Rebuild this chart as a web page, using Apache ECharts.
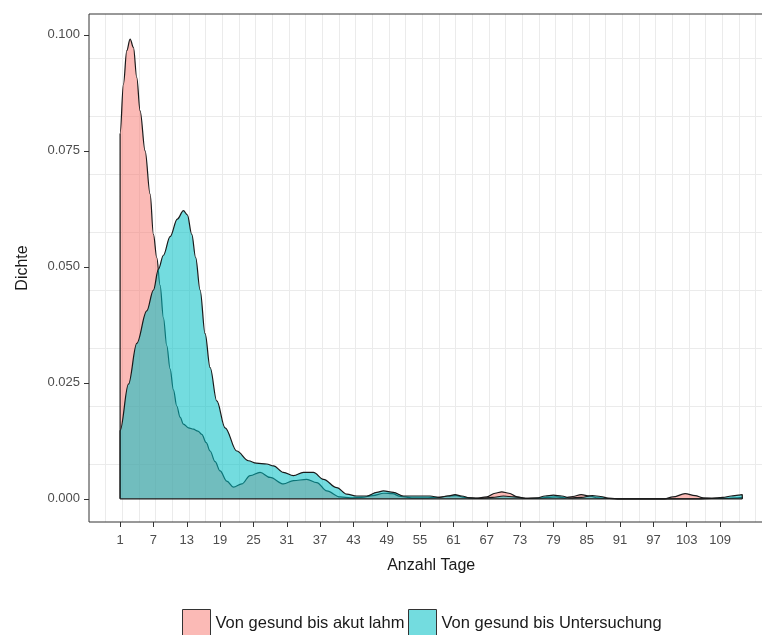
<!DOCTYPE html>
<html>
<head>
<meta charset="utf-8">
<script src="https://cdn.jsdelivr.net/npm/echarts@6/dist/echarts.min.js"></script>
<style>
html,body{margin:0;padding:0;background:#fff;}
#chart{width:762px;height:635px;}
</style>
</head>
<body>
<div id="chart"></div>
<script>
// ---- data ----
const seriesNames = ["Von gesund bis akut lahm", "Von gesund bis Untersuchung"];

const lahmDays = [1,1.6,2.2,2.8,3.4,4.0,4.6,5.5,6.4,7.0,7.6,8.2,8.8,9.4,10.0,10.6,11.2,11.8,12.4,13.3,14.2,15.0,15.7,16.5,17.2,18.1,19.0,20.2,21.4,22.9,24.4,26.2,28.0,30.4,32.2,34.6,36.4,38.2,40.6,42.5,44.5,46.5,48.5,50,51.5,53.5,56,58,60,61.5,63,65,67,68.5,69.7,71,72.5,74,76,78,79.5,81,82.5,84,85.5,87,89,91,99,100.5,102.7,104.5,106,108,110,112,113];
const lahmDens = [0.0787,0.0894,0.0966,0.0991,0.0973,0.0908,0.0836,0.0750,0.0657,0.0570,0.0520,0.0460,0.0390,0.0330,0.0280,0.0235,0.0200,0.0176,0.0161,0.0153,0.0150,0.0146,0.0139,0.0121,0.0103,0.0080,0.0060,0.0038,0.0025,0.0032,0.0050,0.0057,0.0046,0.0032,0.0039,0.0042,0.0035,0.0017,0.0004,0.0002,0.0003,0.0007,0.0012,0.0011,0.0005,0.0002,0.0002,0.0003,0.0006,0.0007,0.0003,0.0001,0.0004,0.0012,0.0015,0.0012,0.0004,0.0001,0.0001,0.0003,0.0004,0.0002,0.0005,0.0009,0.0006,0.0002,0.0001,0,0,0.0004,0.0011,0.0007,0.0002,0.0001,0.0001,0.0002,0.0003];

const untDays = [1,2.5,4.0,5.8,7.0,7.9,8.8,10.0,11.3,12.4,13.1,13.9,14.6,15.4,16.3,17.2,18.4,19.9,22.0,24.1,25.5,27.4,28.6,30.4,32.2,34.0,35.8,37.6,40.0,41.8,43.6,45.4,47.2,48.4,50.2,52.0,54.0,56.8,58.5,60,61.3,62.5,64,66,68,70,72,74,76,77.5,79,80.5,82,84,86,87.5,89,91,100,105,107.5,109.5,111,112.3,113];
const untDens = [0.0147,0.0247,0.0335,0.0405,0.0450,0.0495,0.0525,0.0565,0.0603,0.0621,0.0612,0.0570,0.0520,0.0450,0.0356,0.0283,0.0211,0.0153,0.0103,0.0082,0.0077,0.0075,0.0071,0.0057,0.0050,0.0057,0.0057,0.0042,0.0024,0.0010,0.0006,0.0006,0.0014,0.0017,0.0014,0.0006,0.0006,0.0006,0.0003,0.0006,0.0009,0.0006,0.0002,0.0001,0.0003,0.0006,0.0004,0.0001,0.0002,0.0006,0.0008,0.0006,0.0002,0.0003,0.0007,0.0005,0.0001,0,0,0,0.0001,0.0003,0.0006,0.0008,0.0009];

const xTickDays = [1,7,13,19,25,31,37,43,49,55,61,67,73,79,85,91,97,103,109];
const yTickVals = [0,0.025,0.05,0.075,0.1];

// ---- build ----
const FONT = "Liberation Sans, Arial, sans-serif";
const xMin = -4.6, xMax = 118.6;
const yMin = -0.0050, yMax = 0.1045;
const pinkFill = "rgba(248,118,109,0.5)";
const tealFill = "rgba(0,191,196,0.55)";

function polygon(days, vals){
  const pts = [[days[0], 0]];
  for (let i = 0; i < days.length; i++) pts.push([days[i], vals[i]]);
  pts.push([days[days.length-1], 0]);
  return pts;
}
const firstDay = Math.min(lahmDays[0], untDays[0]);
const lastDay = Math.max(lahmDays[lahmDays.length-1], untDays[untDays.length-1]);

const chart = echarts.init(document.getElementById('chart'), null, {renderer:'canvas'});
chart.setOption({
  animation:false,
  backgroundColor:'#ffffff',
  textStyle:{fontFamily:FONT},
  grid:{left:89, top:14, right:-11.4, bottom:113, show:true, z:10, borderColor:'#333333', borderWidth:1,
        backgroundColor:'transparent', containLabel:false, outerBoundsMode:'none'},
  xAxis:[{
    type:'value', min:xMin, max:xMax, z:1, position:'bottom',
    name:'Anzahl Tage', nameLocation:'middle', nameGap:36,
    nameTextStyle:{fontFamily:FONT, fontSize:16, color:'#1a1a1a'},
    axisLine:{show:false, onZero:false},
    axisTick:{show:true, inside:false, customValues:xTickDays, length:5, lineStyle:{color:'#333333'}},
    axisLabel:{show:true, customValues:xTickDays, margin:12, fontSize:13, color:'#4d4d4d', fontFamily:FONT},
    splitLine:{show:false}
  },{
    // grid lines, one every 3 days starting at day 1
    type:'value', min:xMin - 1, max:xMax - 1, z:0, interval:3, position:'bottom',
    axisLine:{show:false, onZero:false}, axisTick:{show:false}, axisLabel:{show:false},
    splitLine:{show:true, showMinLine:false, showMaxLine:false, lineStyle:{color:'#ebebeb', width:1}}
  }],
  yAxis:[{
    type:'value', min:yMin, max:yMax, z:1, position:'left',
    name:'Dichte', nameLocation:'middle', nameGap:58, nameRotate:90,
    nameTextStyle:{fontFamily:FONT, fontSize:16, color:'#1a1a1a'},
    axisLine:{show:false, onZero:false},
    axisTick:{show:true, inside:false, customValues:yTickVals, length:5, lineStyle:{color:'#333333'}},
    axisLabel:{show:true, customValues:yTickVals, margin:9, fontSize:13, color:'#4d4d4d', fontFamily:FONT,
      formatter:v=>Number(v).toFixed(3)},
    splitLine:{show:false}
  },{
    type:'value', min:yMin, max:yMax, z:0, interval:0.0125, position:'left',
    axisLine:{show:false, onZero:false}, axisTick:{show:false}, axisLabel:{show:false},
    splitLine:{show:true, showMinLine:false, showMaxLine:false, lineStyle:{color:'#ebebeb', width:1}}
  }],
  legend:[{
    left:182, top:609, padding:0, orient:'horizontal', icon:'rect', itemWidth:28, itemHeight:28, itemGap:5,
    textStyle:{fontFamily:FONT, fontSize:16.5, color:'#1a1a1a'},
    data:[{name:seriesNames[0], itemStyle:{color:pinkFill, borderColor:'#333333', borderWidth:1}}]
  },{
    left:408, top:609, padding:0, orient:'horizontal', icon:'rect', itemWidth:28, itemHeight:28, itemGap:5,
    textStyle:{fontFamily:FONT, fontSize:16.5, color:'#1a1a1a'},
    data:[{name:seriesNames[1], itemStyle:{color:tealFill, borderColor:'#333333', borderWidth:1}}]
  }],
  series:[{
    type:'line', name:seriesNames[0], xAxisIndex:0, yAxisIndex:0,
    data:polygon(lahmDays, lahmDens), smooth:0.35, smoothMonotone:'x', symbol:'none',
    color:pinkFill,
    lineStyle:{color:'#1a1a1a', width:1.2},
    areaStyle:{color:pinkFill, opacity:1, origin:0},
    z:2
  },{
    type:'line', name:seriesNames[1], xAxisIndex:0, yAxisIndex:0,
    data:polygon(untDays, untDens), smooth:0.35, smoothMonotone:'x', symbol:'none',
    color:tealFill,
    lineStyle:{color:'#1a1a1a', width:1.2},
    areaStyle:{color:tealFill, opacity:1, origin:0},
    z:3
  },{
    type:'line', name:'baseline', xAxisIndex:0, yAxisIndex:0, silent:true,
    data:[[firstDay,0],[lastDay,0]], symbol:'none',
    lineStyle:{color:'#1a1a1a', width:1.2}, z:4
  }]
});
</script>
</body>
</html>
